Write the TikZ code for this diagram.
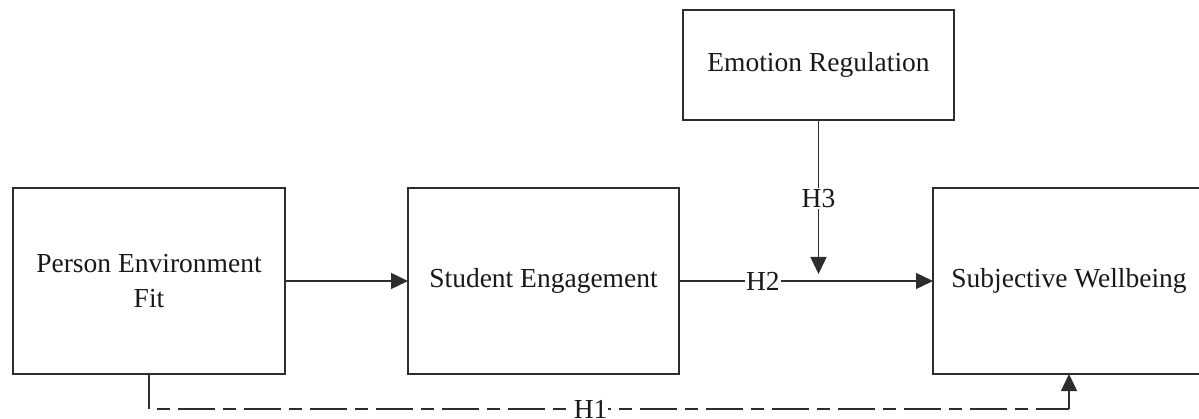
\documentclass[tikz,border=0pt]{standalone}
\usepackage{fontspec}
\setmainfont{Liberation Serif}
\usetikzlibrary{arrows.meta}
\definecolor{linec}{RGB}{45,45,45}
\definecolor{textc}{RGB}{25,25,25}
\tikzset{
  boxnode/.style={draw=linec, line width=1.6pt, rectangle, minimum height=186pt, minimum width=272pt, inner sep=0pt, outer sep=0pt, align=center, text=textc, font=\fontsize{27.5}{35}\selectfont},
  arr/.style={draw=linec, line width=1.4pt, -{Triangle[length=17pt,width=16pt]}},
  plainline/.style={draw=linec, line width=1.4pt},
  dashline/.style={draw=linec, line width=1.4pt, dash pattern=on 13pt off 8pt on 37pt off 8pt, dash phase=58pt},
  hlabel/.style={fill=white, inner sep=1pt, text=textc, font=\fontsize{27.5}{33}\selectfont}
}
\begin{document}
\begin{tikzpicture}[x=1pt,y=-1pt]
\useasboundingbox (0,0) rectangle (1199,419);
\fill[white] (0,0) rectangle (1199,419);
\node[boxnode] (pef) at (149,281) {Person Environment\\Fit};
\node[boxnode, minimum width=271pt] (se) at (543.5,281) {Student Engagement};
\node[boxnode, minimum width=271pt, minimum height=110pt] (er) at (818.5,65) {Emotion Regulation};
\node[boxnode] (sw) at (1069,281) {Subjective Wellbeing};
\coordinate (h3end) at (818.5,274);
\coordinate (c1) at (149,409);
\coordinate (c2) at (1069,409);
\draw[arr] (pef.east) -- (se.west);
\draw[arr] (se.east) -- node[hlabel, pos=0.33] {H2} (sw.west);
\draw[arr] (er.south) -- node[hlabel, pos=0.51] {H3} (h3end);
\draw[plainline] (pef.south) -- (c1);
\draw[dashline] (c1) -- node[hlabel, pos=0.48, inner ysep=0pt] {H1} (c2);
\draw[arr] (c2) -- (sw.south);
\end{tikzpicture}
\end{document}
